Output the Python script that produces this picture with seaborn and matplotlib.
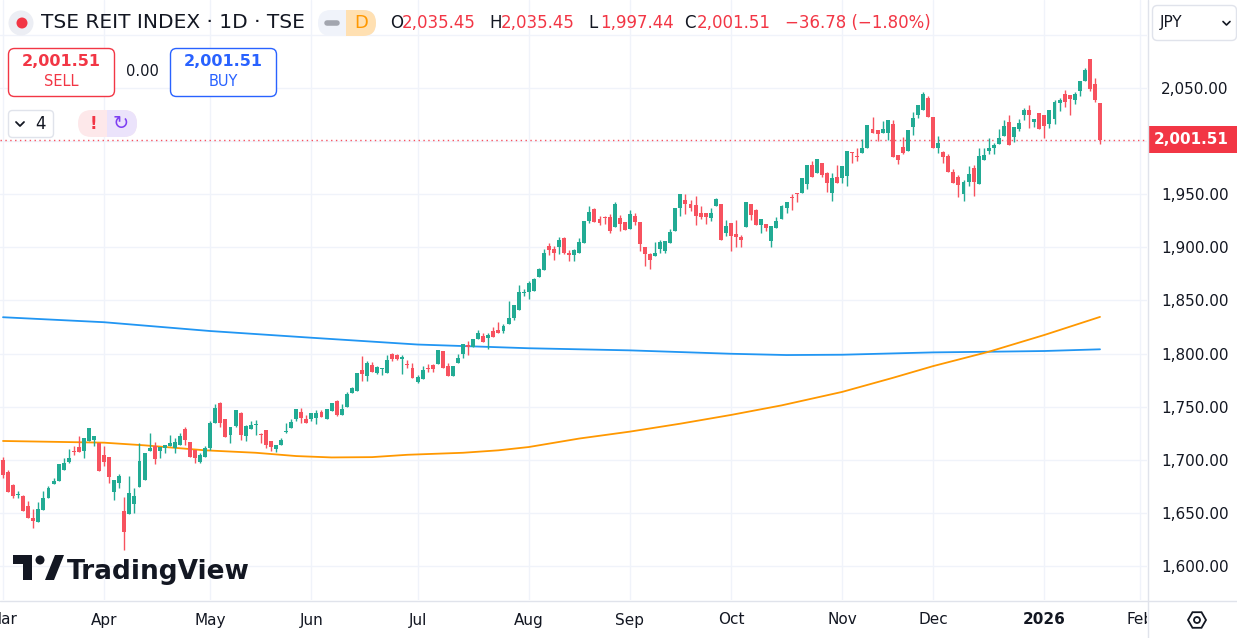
import numpy as np
import pandas as pd
import seaborn as sns
import matplotlib
matplotlib.use("Agg")
import matplotlib.pyplot as plt
from matplotlib import transforms
from matplotlib.ticker import FuncFormatter
from matplotlib.patches import Rectangle, FancyBboxPatch, Circle, RegularPolygon, Polygon

# daily candles, 2025-03-03 .. 2026-01-21
opens = [1699.8, 1688.8, 1676.3, 1667.0, 1665.9, 1656.5, 1645.2, 1641.7, 1652.7, 1664.3,
         1677.2, 1680.3, 1690.4, 1698.2, 1708.0, 1712.4, 1708.6, 1718.0, 1718.6, 1715.5,
         1704.5, 1702.3, 1670.0, 1678.5, 1651.8, 1649.0, 1658.4, 1674.7, 1681.0, 1708.6,
         1713.0, 1708.6, 1710.8, 1713.0, 1710.8, 1713.9, 1728.7, 1717.0, 1709.2,
         1698.2, 1703.0, 1710.8, 1735.0, 1753.2, 1738.1, 1723.3, 1731.8, 1744.4, 1722.4,
         1728.7, 1732.5, 1724.3, 1728.1, 1718.0, 1710.5, 1713.9, 1726.5, 1730.3, 1738.1,
         1745.3, 1738.1, 1738.1, 1739.0, 1745.3, 1738.1, 1746.3, 1755.7, 1742.2, 1750.0,
         1763.2, 1765.1, 1784.5, 1778.9, 1789.3, 1782.0, 1785.2, 1782.0,
         1799.6, 1798.6, 1794.5, 1790.2, 1786.7, 1773.5, 1775.7, 1786.7, 1789.2, 1789.8,
         1802.7, 1788.3, 1779.2, 1791.4, 1799.6, 1808.0, 1806.5, 1813.4, 1816.5, 1814.3,
         1821.5, 1822.1, 1821.2, 1827.8, 1833.1, 1841.0, 1856.7, 1858.2, 1858.9, 1872.4,
         1878.6, 1901.2, 1898.4, 1900.6, 1908.4, 1894.3,
         1892.8, 1895.0, 1904.4, 1924.8, 1935.8, 1926.4, 1928.2, 1928.2, 1919.5, 1927.3,
         1924.2, 1917.3, 1929.5, 1924.2, 1900.0, 1893.7, 1891.8, 1898.1, 1896.9, 1903.8,
         1915.7, 1936.7, 1944.6, 1940.8, 1939.8, 1932.6, 1932.6, 1927.3, 1938.9, 1940.8,
         1913.8, 1923.2, 1912.6, 1909.4, 1919.5, 1940.8, 1935.1, 1921.0, 1922.0, 1906.3,
         1917.9,
         1926.3, 1936.7, 1947.7, 1950.8, 1950.8, 1959.6, 1977.5, 1970.3, 1979.1, 1969.6,
         1951.4, 1965.9, 1964.9, 1967.1, 1989.1, 1985.9, 1988.5, 1993.2, 2011.1, 2010.4,
         2007.3, 2007.9, 2016.1, 1986.9, 1994.1, 1991.0, 2013.6, 2024.6, 2029.3, 2040.2,
         2022.4, 1993.2, 1990.0, 1986.0, 1971.2, 1965.9,
         1950.2, 1961.8, 1974.4, 1959.7, 1982.2, 1991.0, 1993.2, 1997.3, 2004.8, 2018.3,
         2004.2, 2011.1, 2024.6, 2029.3, 2018.3, 2026.8, 2024.6, 2016.1, 2020.5, 2036.2,
         2044.4, 2043.4, 2038.7, 2047.5, 2056.9, 2077.0, 2053.8, 2035.45]
highs = [1702.9, 1690.4, 1677.2, 1670.6, 1666.9, 1661.2, 1653.7, 1659.9, 1670.6, 1675.3,
         1682.5, 1696.0, 1701.4, 1709.8, 1713.0, 1722.4, 1720.2, 1729.6, 1722.4, 1715.5,
         1713.0, 1702.3, 1681.0, 1686.6, 1664.7, 1684.7, 1673.8, 1715.5, 1706.7, 1725.5,
         1717.0, 1712.4, 1714.0, 1723.3, 1720.2, 1725.5, 1731.2, 1717.0, 1709.2,
         1706.7, 1713.0, 1736.8, 1752.5, 1754.7, 1738.1, 1731.2, 1746.9, 1745.3, 1732.8,
         1736.8, 1737.5, 1724.9, 1728.1, 1718.0, 1713.9, 1720.2, 1734.3, 1738.1, 1747.5,
         1748.5, 1742.2, 1743.8, 1746.9, 1746.9, 1747.5, 1753.2, 1756.3, 1752.5, 1764.2,
         1768.9, 1781.4, 1797.7, 1793.3, 1792.4, 1788.3, 1786.1, 1798.7,
         1800.8, 1799.6, 1798.6, 1793.9, 1791.4, 1779.8, 1788.3, 1789.8, 1790.1, 1803.3,
         1802.7, 1791.4, 1788.3, 1799.6, 1809.0, 1812.1, 1813.7, 1822.1, 1819.0, 1819.6,
         1824.7, 1829.4, 1827.8, 1849.4, 1845.7, 1864.5, 1860.4, 1868.6, 1870.8, 1880.8,
         1898.1, 1904.4, 1901.2, 1909.4, 1909.4, 1897.5,
         1898.4, 1908.5, 1924.8, 1938.9, 1936.7, 1929.5, 1929.5, 1931.4, 1943.0, 1930.4,
         1924.2, 1935.1, 1932.0, 1924.2, 1900.0, 1895.0, 1905.3, 1906.9, 1906.3, 1916.9,
         1936.7, 1950.2, 1950.2, 1944.6, 1948.3, 1938.9, 1932.6, 1936.7, 1946.1, 1940.8,
         1925.7, 1923.2, 1925.7, 1911.6, 1943.0, 1940.8, 1935.8, 1926.4, 1922.0, 1920.1,
         1928.9,
         1939.8, 1943.0, 1950.2, 1951.4, 1964.9, 1977.5, 1981.2, 1982.8, 1979.1, 1971.2,
         1969.6, 1977.5, 1976.5, 1990.7, 1990.1, 1993.2, 2001.6, 2015.1, 2023.0, 2010.4,
         2018.9, 2019.8, 2019.8, 1986.9, 2003.5, 2010.4, 2027.7, 2034.0, 2046.5, 2042.4,
         2022.4, 2004.8, 1991.0, 1987.8, 1973.8, 1968.1,
         1963.4, 1976.6, 1977.5, 1993.2, 1993.2, 2002.6, 1997.9, 2011.1, 2019.9, 2024.6,
         2013.0, 2020.5, 2030.9, 2034.0, 2020.5, 2026.8, 2024.6, 2029.3, 2038.7, 2040.3,
         2048.1, 2043.4, 2046.5, 2056.6, 2068.5, 2077.0, 2059.1, 2035.45]
lows = [1682.5, 1670.0, 1664.3, 1664.3, 1652.0, 1645.0, 1636.1, 1641.7, 1652.7, 1664.3,
        1677.2, 1680.3, 1690.4, 1697.3, 1704.5, 1707.6, 1701.4, 1718.0, 1713.0, 1689.8,
        1694.2, 1678.5, 1662.1, 1673.8, 1615.1, 1649.0, 1650.2, 1674.7, 1681.0, 1708.6,
        1696.0, 1701.4, 1706.7, 1713.0, 1706.7, 1713.9, 1713.9, 1703.0, 1696.7,
        1696.7, 1703.0, 1709.2, 1735.0, 1731.2, 1721.8, 1716.0, 1730.6, 1718.6, 1718.0,
        1728.7, 1723.3, 1715.5, 1710.8, 1708.6, 1707.6, 1713.9, 1725.6, 1730.3, 1736.8,
        1735.0, 1735.0, 1736.8, 1733.7, 1740.6, 1738.1, 1746.3, 1741.2, 1742.2, 1749.4,
        1762.6, 1765.1, 1774.5, 1774.5, 1783.0, 1780.8, 1779.8, 1782.0,
        1793.3, 1793.9, 1780.7, 1786.1, 1777.3, 1771.9, 1775.7, 1782.9, 1782.9, 1789.8,
        1786.1, 1779.2, 1779.2, 1791.4, 1795.5, 1798.6, 1806.5, 1813.4, 1811.2, 1803.9,
        1815.9, 1819.6, 1819.0, 1827.8, 1831.6, 1841.0, 1854.2, 1851.3, 1858.9, 1872.4,
        1878.6, 1892.7, 1888.0, 1893.7, 1893.7, 1887.4,
        1887.4, 1895.0, 1904.4, 1923.2, 1924.2, 1921.0, 1922.0, 1913.8, 1919.5, 1915.7,
        1916.3, 1917.3, 1921.0, 1896.9, 1882.4, 1879.3, 1891.8, 1895.0, 1895.0, 1903.8,
        1915.7, 1929.5, 1931.4, 1934.5, 1921.0, 1926.4, 1922.0, 1925.1, 1938.9, 1906.9,
        1910.7, 1896.9, 1900.6, 1900.6, 1919.5, 1925.7, 1921.0, 1913.8, 1915.7, 1900.0,
        1917.9,
        1926.3, 1932.6, 1935.1, 1943.0, 1950.8, 1954.6, 1965.9, 1970.3, 1965.9, 1952.4,
        1943.9, 1960.9, 1960.2, 1957.7, 1979.1, 1981.6, 1988.5, 1993.2, 2007.3, 2000.4,
        2007.3, 2001.0, 1985.3, 1978.4, 1987.8, 1991.0, 2005.7, 2021.4, 2029.3, 2022.4,
        1993.8, 1988.5, 1979.7, 1971.2, 1960.9, 1947.7,
        1944.0, 1957.8, 1948.3, 1959.7, 1982.2, 1987.9, 1987.9, 1997.3, 2004.8, 1996.4,
        1999.5, 2009.9, 2019.9, 2012.1, 2013.0, 2011.4, 2002.6, 2012.1, 2016.1, 2028.7,
        2032.5, 2024.6, 2035.0, 2042.5, 2056.9, 2047.5, 2037.2, 1997.44]
closes = [1685.7, 1670.0, 1665.9, 1668.0, 1652.1, 1645.5, 1642.7, 1653.7, 1663.7, 1673.8,
          1680.3, 1696.0, 1697.3, 1701.4, 1707.6, 1707.6, 1720.2, 1729.6, 1722.4, 1689.8,
          1698.2, 1683.5, 1681.0, 1684.7, 1632.3, 1668.4, 1665.9, 1699.2, 1706.7, 1710.8,
          1700.7, 1712.4, 1714.0, 1715.5, 1717.0, 1722.4, 1718.6, 1703.0, 1701.4,
          1704.5, 1710.8, 1734.3, 1748.5, 1735.0, 1721.8, 1731.2, 1746.9, 1723.3, 1731.8,
          1732.8, 1732.8, 1723.3, 1713.9, 1712.4, 1713.9, 1718.6, 1727.5, 1735.9, 1747.5,
          1739.0, 1735.0, 1743.8, 1743.8, 1740.6, 1747.5, 1753.2, 1742.2, 1747.5, 1761.9,
          1767.3, 1781.4, 1780.8, 1790.8, 1783.0, 1787.0, 1786.1, 1794.0,
          1794.5, 1794.5, 1796.4, 1789.2, 1777.3, 1778.2, 1784.5, 1785.4, 1785.1, 1803.3,
          1786.1, 1779.2, 1788.3, 1796.1, 1809.0, 1805.8, 1813.7, 1819.0, 1811.2, 1817.4,
          1815.9, 1819.6, 1825.9, 1833.1, 1845.7, 1858.2, 1858.2, 1866.7, 1869.8, 1879.3,
          1894.3, 1897.5, 1894.9, 1906.9, 1894.3, 1892.4,
          1897.5, 1905.3, 1924.8, 1933.6, 1924.2, 1922.6, 1927.3, 1915.7, 1940.8, 1922.0,
          1916.3, 1931.4, 1924.2, 1903.1, 1893.7, 1888.1, 1894.3, 1905.3, 1906.3, 1914.7,
          1936.7, 1950.2, 1940.8, 1936.7, 1929.5, 1928.9, 1928.2, 1932.6, 1945.2, 1906.9,
          1920.1, 1910.7, 1910.0, 1906.9, 1943.0, 1930.4, 1921.0, 1926.4, 1917.9, 1920.1,
          1925.1,
          1938.9, 1943.0, 1946.1, 1949.9, 1964.9, 1977.5, 1965.9, 1982.8, 1968.1, 1960.2,
          1964.9, 1960.9, 1976.5, 1990.7, 1988.5, 1985.3, 1993.2, 2015.1, 2007.3, 2006.7,
          2011.1, 2019.8, 1985.3, 1982.2, 1989.1, 2010.4, 2021.4, 2034.0, 2044.3, 2022.4,
          1993.8, 1997.9, 1985.3, 1971.2, 1960.9, 1958.7,
          1961.8, 1969.1, 1961.8, 1986.0, 1987.0, 1993.9, 1996.4, 2002.6, 2014.3, 1996.4,
          2013.0, 2016.8, 2029.3, 2024.6, 2020.5, 2011.4, 2014.3, 2029.3, 2037.2, 2038.7,
          2037.2, 2039.7, 2044.4, 2056.6, 2067.0, 2048.8, 2038.29, 2001.51]

# moving averages, sampled along the chart (bar index, value)
ma_blue_idx = [0, 20, 41, 61, 82, 104, 124, 144, 155, 166, 184, 195, 206, 217]
ma_blue_val = [1834.2, 1829.5, 1821.2, 1814.9, 1808.5, 1805.0, 1803.0, 1799.8, 1798.6,
               1798.9, 1801.1, 1801.7, 1802.4, 1804.0]
ma_orange_idx = [0, 20, 28, 40, 50, 58, 65, 73, 80, 91, 98, 104, 114, 124, 134, 144,
                 154, 166, 176, 184, 195, 206, 217]
ma_orange_val = [1717.7, 1716.1, 1713.6, 1708.9, 1706.6, 1703.5, 1702.2, 1702.5, 1704.7,
                 1706.6, 1708.9, 1712.0, 1720.0, 1726.5, 1734.0, 1742.2, 1751.2, 1763.9,
                 1777.1, 1788.2, 1801.7, 1817.5, 1834.5]

# TSE closed days in the range
holidays = ["2025-03-20", "2025-04-29", "2025-05-05", "2025-05-06", "2025-07-21",
            "2025-08-11", "2025-09-15", "2025-09-23", "2025-10-13", "2025-11-03",
            "2025-11-24", "2025-12-31", "2026-01-01", "2026-01-02", "2026-01-12"]

UP, DOWN = "#22ab94", "#f7525f"
RED, BLUE_TXT, INK = "#f23645", "#2962ff", "#131722"
W, H = 1237, 638

cal = pd.bdate_range("2025-03-03", "2026-02-06")
cal = cal[~cal.isin(pd.to_datetime(holidays))]
df = pd.DataFrame({"date": cal[:len(closes)], "open": opens, "high": highs,
                   "low": lows, "close": closes})
df["i"] = np.arange(len(df))
df["up"] = df["close"] >= df["open"]

# first trading day of every month -> tick
cal_s = pd.Series(np.arange(len(cal)), index=cal)
firsts = cal_s.groupby([cal.year, cal.month]).first()
month_pos = list(firsts.values)
month_lbl = [("2026" if m == 1 else pd.Timestamp(2000, m, 1).strftime("%b"))
             for (y, m) in firsts.index]

sns.set_theme(style="white")
plt.rcParams["font.family"] = ["DejaVu Sans"]

fig = plt.figure(figsize=(W / 100, H / 100), dpi=100)
fig.patch.set_facecolor("white")
ax = fig.add_axes([0, 38 / H, 1147 / W, 600 / H])

bar_px = (1100 - 3) / (len(df) - 1)
ppu = 478 / 450
ax.set_xlim(-3 / bar_px, (1147 - 3) / bar_px)
ax.set_ylim(2050 - (600 - 88) / ppu, 2050 + 88 / ppu)

colors = np.where(df["up"], UP, DOWN)
ax.vlines(df["i"], df["low"], df["high"], colors=colors, lw=1.0, zorder=3)
body = np.maximum((df["close"] - df["open"]).abs(), 0.9)
ax.bar(df["i"], body, bottom=np.minimum(df["open"], df["close"]), width=0.78,
       color=colors, linewidth=0, zorder=4)

sns.lineplot(x=ma_blue_idx, y=ma_blue_val, ax=ax, color="#2196f3", lw=1.3, zorder=2)
sns.lineplot(x=ma_orange_idx, y=ma_orange_val, ax=ax, color="#ff9800", lw=1.3, zorder=2)

last = df.iloc[-1]
ax.axhline(last["close"], color=DOWN, ls=(0, (1, 2.5)), lw=1, zorder=1)


def price_fmt(v, p):
    # labels under the price tag / currency box are hidden, as on the chart
    if v > 2075 or abs(v - last["close"]) < 12:
        return ""
    return f"{v:,.2f}"


ax.set_yticks(np.arange(1600, 2101, 50))
ax.yaxis.tick_right()
ax.yaxis.set_major_formatter(FuncFormatter(price_fmt))
ax.tick_params(axis="y", length=0, pad=10, labelsize=11, labelcolor=INK)
ax.set_xticks(month_pos)
ax.set_xticklabels(month_lbl)
ax.tick_params(axis="x", length=0, pad=9, labelsize=11, labelcolor=INK)
for t in ax.get_xticklabels():
    if t.get_text() == "2026":
        t.set_fontweight("bold")
ax.grid(True, color="#f0f3fa", lw=1)
ax.set_axisbelow(True)
for s in ax.spines.values():
    s.set_visible(False)
ax.set_xlabel("")
ax.set_ylabel("")

# overlay in pixel coordinates for the TradingView furniture
ov = fig.add_axes([0, 0, 1, 1], zorder=10)
ov.set_xlim(0, W)
ov.set_ylim(H, 0)
ov.axis("off")
ov.patch.set_alpha(0)

ov.add_patch(Rectangle((1147, 601), 90, 37, fc="white", ec="none"))
ov.plot([1147.5, 1147.5], [0, H], color="#e0e3eb", lw=1)
ov.plot([0, W], [600.5, 600.5], color="#e0e3eb", lw=1)

# price tag
trans = transforms.blended_transform_factory(ov.transData, ax.transData)
ov.add_patch(Rectangle((1148, last["close"] - 12.7), 89, 25.4, transform=trans,
                       fc=RED, ec="none"))
ov.text(1229, last["close"], f"{last['close']:,.2f}", transform=trans, ha="right",
        va="center", color="white", fontsize=11, fontweight="bold")

# currency box
ov.add_patch(FancyBboxPatch((1152.5, 5.5), 84, 35, boxstyle="round,pad=0,rounding_size=5",
                            fc="white", ec="#e0e3eb", lw=1))
ov.text(1160, 23, "JPY", ha="left", va="center", fontsize=11, color=INK)
ov.plot([1223, 1226.5, 1230], [21.5, 25, 21.5], color=INK, lw=1.2)

# settings icon
ov.add_patch(RegularPolygon((1197, 620), numVertices=6, radius=9, orientation=np.pi / 6,
                            fc="none", ec=INK, lw=1.3))
ov.add_patch(Circle((1197, 620), 3, fc="none", ec=INK, lw=1.3))

# header
ov.add_patch(Circle((21, 23), 12.5, fc="#eceef4", ec="none"))
ov.add_patch(Circle((22, 23), 5.5, fc=RED, ec="none"))
ov.text(41, 23, "TSE REIT INDEX · 1D · TSE", ha="left", va="center", fontsize=14.5,
        color=INK)
ov.add_patch(FancyBboxPatch((318, 10), 58, 26, boxstyle="round,pad=0,rounding_size=13",
                            fc="#f0f3fa", ec="none"))
ov.add_patch(FancyBboxPatch((346, 10), 30, 26, boxstyle="round,pad=0,rounding_size=13",
                            fc="#ffe0b2", ec="none"))
ov.add_patch(Rectangle((346, 10), 14, 26, fc="#ffe0b2", ec="none"))
ov.plot([327, 337], [23, 23], color="#a3a6af", lw=4, solid_capstyle="round")
ov.text(361, 23.5, "D", ha="center", va="center", fontsize=13, color="#ff9800")

chg = last["close"] - df["close"].iloc[-2]
pct = chg / df["close"].iloc[-2] * 100
pieces = [(390, "O", INK), (402, f"{last['open']:,.2f}", RED),
          (489, "H", INK), (501, f"{last['high']:,.2f}", RED),
          (588, "L", INK), (600, f"{last['low']:,.2f}", RED),
          (684, "C", INK), (697, f"{last['close']:,.2f}", RED),
          (785, f"{chg:+.2f} ({pct:+.2f}%)".replace("-", "\u2212"), RED)]
for x, s, c in pieces:
    ov.text(x, 23, s, ha="left", va="center", fontsize=12, color=c)

# sell / buy
ov.add_patch(FancyBboxPatch((8.5, 48.5), 106, 48, boxstyle="round,pad=0,rounding_size=6",
                            fc="white", ec=RED, lw=1))
ov.text(61, 62, f"{last['close']:,.2f}", ha="center", va="center", fontsize=11.5,
        fontweight="bold", color=RED)
ov.text(61, 82, "SELL", ha="center", va="center", fontsize=10.5, color=RED)
ov.text(142, 72, "0.00", ha="center", va="center", fontsize=10.5, color=INK)
ov.add_patch(FancyBboxPatch((170.5, 48.5), 106, 48, boxstyle="round,pad=0,rounding_size=6",
                            fc="white", ec=BLUE_TXT, lw=1))
ov.text(223, 62, f"{last['close']:,.2f}", ha="center", va="center", fontsize=11.5,
        fontweight="bold", color=BLUE_TXT)
ov.text(223, 82, "BUY", ha="center", va="center", fontsize=10.5, color=BLUE_TXT)

# indicators row
ov.add_patch(FancyBboxPatch((8.5, 110.5), 45, 27, boxstyle="round,pad=0,rounding_size=4",
                            fc="white", ec="#e0e3eb", lw=1))
ov.plot([16, 20, 24], [122, 126, 122], color=INK, lw=1.3)
ov.text(41, 124, "4", ha="center", va="center", fontsize=12, color=INK)
ov.add_patch(FancyBboxPatch((78, 110), 59, 27, boxstyle="round,pad=0,rounding_size=13.5",
                            fc="#fde8ea", ec="none"))
ov.add_patch(FancyBboxPatch((107, 110), 30, 27, boxstyle="round,pad=0,rounding_size=13.5",
                            fc="#ebe3fb", ec="none"))
ov.add_patch(Rectangle((107, 110), 14, 27, fc="#ebe3fb", ec="none"))
ov.text(93, 124, "!", ha="center", va="center", fontsize=12, fontweight="bold", color=RED)
ov.text(121, 124, "\u21bb", ha="center", va="center", fontsize=14, color="#7e3ff2")

# logo
ov.add_patch(Polygon([(13, 555), (32, 555), (32, 580), (23, 580), (23, 564), (13, 564)],
                     closed=True, fc=INK, ec="none"))
ov.add_patch(Circle((40, 560), 4.5, fc=INK, ec="none"))
ov.add_patch(Polygon([(45, 580), (55, 555), (64, 555), (54, 580)], closed=True,
                     fc=INK, ec="none"))
ov.text(67, 579, "TradingView", ha="left", va="baseline", fontsize=19,
        fontweight="bold", color=INK)

fig.savefig("out.png", dpi=100)
